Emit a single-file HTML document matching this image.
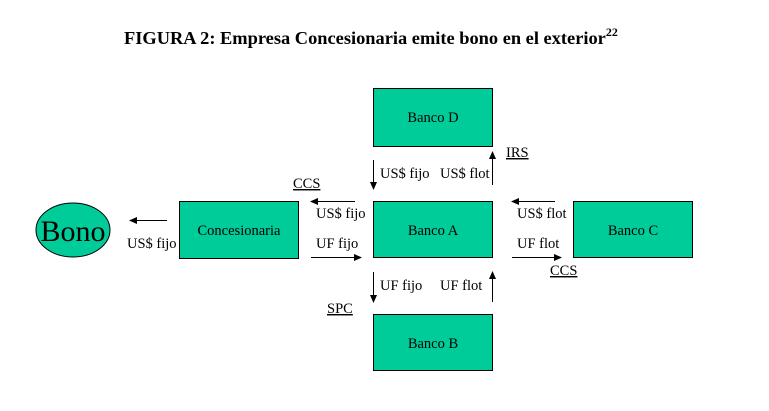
<!DOCTYPE html>
<html><head><meta charset="utf-8"><style>
html,body{margin:0;padding:0;background:#fff;}
svg{display:block;}
text{font-family:"Liberation Serif",serif;fill:#000;}
</style></head><body>
<svg width="769" height="411" viewBox="0 0 769 411" xmlns="http://www.w3.org/2000/svg">
<defs><marker id="a" markerWidth="8" markerHeight="8" refX="7" refY="4" orient="auto" markerUnits="userSpaceOnUse"><path d="M0,0.5 L8,4 L0,7.5 Z" fill="#000"/></marker></defs>
<text x="124" y="44" font-size="18.4" font-weight="bold">FIGURA 2: Empresa Concesionaria emite bono en el exterior<tspan font-size="12" dy="-8">22</tspan></text>
<g fill="#00CC99" stroke="#000" stroke-width="1">
<rect x="373.5" y="88.5" width="119" height="58"/>
<rect x="373.5" y="201.5" width="119" height="56"/>
<rect x="179.5" y="201.5" width="119" height="57"/>
<rect x="573.5" y="201.5" width="119" height="56"/>
<rect x="373.5" y="314.5" width="119" height="56"/>
<ellipse cx="73" cy="230" rx="37" ry="27"/>
</g>
<g font-size="14.5" text-anchor="middle">
<text x="433" y="122">Banco D</text>
<text x="433" y="235">Banco A</text>
<text x="239" y="235">Concesionaria</text>
<text x="633" y="235">Banco C</text>
<text x="433" y="348">Banco B</text>
</g>
<text x="73" y="241" font-size="30" text-anchor="middle">Bono</text>
<g stroke="#000" stroke-width="1" marker-end="url(#a)">
<line x1="373.5" y1="160" x2="373.5" y2="189"/>
<line x1="492.5" y1="185" x2="492.5" y2="152"/>
<line x1="355" y1="201.5" x2="311" y2="201.5"/>
<line x1="311" y1="257.5" x2="361" y2="257.5"/>
<line x1="555" y1="201.5" x2="512" y2="201.5"/>
<line x1="512" y1="257.5" x2="561" y2="257.5"/>
<line x1="373.5" y1="272" x2="373.5" y2="302"/>
<line x1="492.5" y1="302" x2="492.5" y2="272"/>
<line x1="167" y1="220.5" x2="130" y2="220.5"/>
</g>
<g font-size="14.5">
<text x="380" y="178">US$ fijo</text>
<text x="440" y="178">US$ flot</text>
<text x="316" y="218">US$ fijo</text>
<text x="316" y="248">UF fijo</text>
<text x="517" y="218">US$ flot</text>
<text x="517" y="248">UF flot</text>
<text x="380" y="290">UF fijo</text>
<text x="440" y="290">UF flot</text>
<text x="127" y="248">US$ fijo</text>
<text x="506" y="157" text-decoration="underline">IRS</text>
<text x="293" y="188" text-decoration="underline">CCS</text>
<text x="550" y="275" text-decoration="underline">CCS</text>
<text x="327" y="313" text-decoration="underline">SPC</text>
</g>
</svg>
</body></html>
